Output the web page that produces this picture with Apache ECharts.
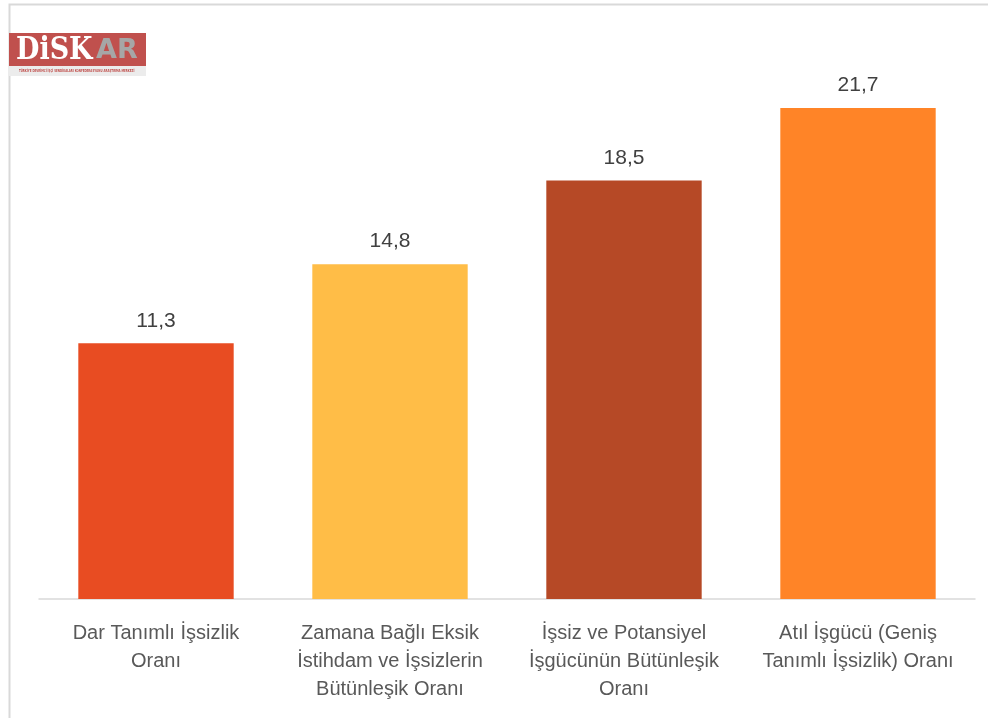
<!DOCTYPE html>
<html><head><meta charset="utf-8">
<script src="https://cdn.jsdelivr.net/npm/echarts@6/dist/echarts.min.js"></script>
<style>html,body{margin:0;padding:0;background:#fff}#c{width:988px;height:718px}</style>
</head><body><div id="c"></div>
<script>
const categories = [
  'Dar Tanımlı İşsizlik\nOranı',
  'Zamana Bağlı Eksik\nİstihdam ve İşsizlerin\nBütünleşik Oranı',
  'İşsiz ve Potansiyel\nİşgücünün Bütünleşik\nOranı',
  'Atıl İşgücü (Geniş\nTanımlı İşsizlik) Oranı'
];
const values = [11.3, 14.8, 18.5, 21.7];
const colors = ['#E84C22', '#FFBD47', '#B64926', '#FF8427'];

const chart = echarts.init(document.getElementById('c'));
const FONT = '"Liberation Sans", Arial, sans-serif';
chart.setOption({
  animation: false,
  grid: {left: 39, right: 13, top: 56, bottom: 119},
  xAxis: {
    type: 'category', data: categories,
    axisLine: {show: true, lineStyle: {color: '#d9d9d9', width: 1.5}},
    axisTick: {show: false},
    axisLabel: {interval: 0, color: '#595959', fontFamily: FONT, fontSize: 20, lineHeight: 28, margin: 20}
  },
  yAxis: {type: 'value', min: 0, max: 24, show: false, splitLine: {show: false}},
  series: [{
    type: 'bar', barWidth: '66.4%',
    data: values.map((v, i) => ({value: v, itemStyle: {color: colors[i]}})),
    label: {show: true, position: 'top', distance: 12, color: '#404040', fontFamily: FONT, fontSize: 21,
      formatter: p => String(p.value).replace('.', ',')}
  }],
  graphic: [
    {type: 'polyline', shape: {points: [[9.5, 718], [9.5, 4.5], [988, 4.5]]}, style: {stroke: '#d9d9d9', lineWidth: 2, fill: null}},
    {type: 'rect', shape: {x: 9, y: 33, width: 137, height: 33}, style: {fill: '#C0504D'}},
    {type: 'rect', shape: {x: 9, y: 66, width: 137, height: 10}, style: {fill: '#ececec'}},
    {type: 'text', x: 16, y: 35, scaleX: 0.87, style: {text: 'DiSK', fill: '#ffffff', font: 'bold 31px "DejaVu Serif", serif'}},
    {type: 'text', x: 96, y: 37, style: {text: 'AR', fill: '#a6a6a6', font: 'bold 27px "DejaVu Sans", sans-serif'}},
    {type: 'text', x: 19, y: 69, scaleX: 0.72, style: {text: 'TÜRKİYE DEVRİMCİ İŞÇİ SENDİKALARI KONFEDERASYONU ARAŞTIRMA MERKEZİ', fill: '#C0504D', font: 'bold 4px "DejaVu Sans Condensed", sans-serif'}}
  ]
});
</script></body></html>
